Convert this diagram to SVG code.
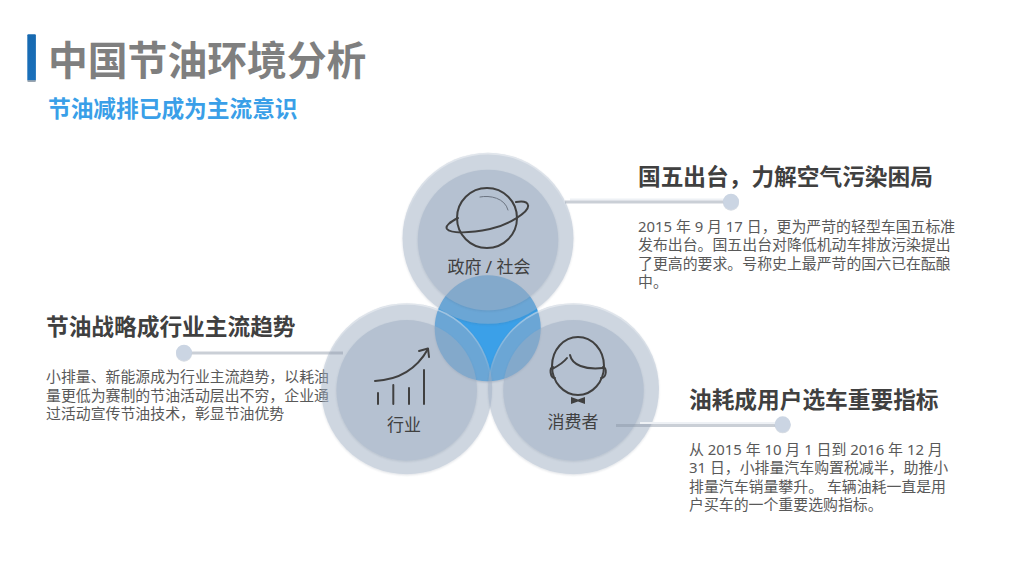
<svg xmlns="http://www.w3.org/2000/svg" width="1024" height="576" viewBox="0 0 1024 576">
<style>
text{font-family:"Noto Sans","Noto Sans CJK SC",sans-serif}
.title{font-size:39.8px;font-weight:700;fill:#7f7f7f}
.sub{font-size:22.7px;font-weight:700;fill:#3a9fe8}
.h{font-size:22.7px;font-weight:700;fill:#404040}
.b{font-size:14.9px;fill:#595959}
.lab{font-size:17px;fill:#404040;text-anchor:middle}
.disc{fill:#9dadc2;opacity:.49;filter:url(#edge)}
.rim{fill:none;stroke:url(#rimg);stroke-width:1.6}
.ic{fill:none;stroke:#404040;stroke-width:2;stroke-linecap:round;stroke-linejoin:round}
.ln{fill:#8a94a4;opacity:.45}
.hl{fill:#eef1f5}
.dot{fill:#cbd5e3;filter:url(#dotedge)}
</style>
<defs>
<linearGradient id="bar" x1="0" y1="0" x2="0" y2="1"><stop offset="0" stop-color="#1769b0"/><stop offset=".96" stop-color="#1a70bb"/><stop offset=".97" stop-color="#9aa5b0"/></linearGradient>
<linearGradient id="rimg" x1="0" y1="0" x2="0" y2="1"><stop offset="0" stop-color="#fff" stop-opacity=".4"/><stop offset=".45" stop-color="#fff" stop-opacity="0"/></linearGradient>
<filter id="edge" x="-10%" y="-10%" width="120%" height="120%">
<feGaussianBlur in="SourceAlpha" stdDeviation=".8" result="b"/>
<feOffset in="b" dy="1.2" result="o"/>
<feFlood flood-color="#3c4f68" flood-opacity=".32"/>
<feComposite in2="o" operator="in" result="s"/>
<feMerge><feMergeNode in="s"/><feMergeNode in="SourceGraphic"/></feMerge>
</filter>
<filter id="dotedge" x="-30%" y="-30%" width="160%" height="160%">
<feDropShadow dx="0" dy="1" stdDeviation=".6" flood-color="#8494aa" flood-opacity=".35"/>
</filter>
<filter id="cs" x="-10%" y="-10%" width="120%" height="120%">
<feDropShadow dx="0" dy="1" stdDeviation=".8" flood-color="#4a5a70" flood-opacity=".4"/>
</filter>
</defs>
<rect width="1024" height="576" fill="#fff"/>
<g id="header">
<rect x="27.3" y="34.3" width="8.6" height="47.7" rx="1" fill="url(#bar)"/>
<text class="title" x="48" y="75">中国节油环境分析</text>
<text class="sub" x="48" y="117">节油减排已成为主流意识</text>
</g>
<g id="text-left">
<text class="h" x="46" y="335">节油战略成行业主流趋势</text>
<text class="b" y="382"><tspan x="46">小排量、新能源成为行业主流趋势，以耗油</tspan><tspan x="46" dy="18.6">量更低为赛制的节油活动层出不穷，企业通</tspan><tspan x="46" dy="18.6">过活动宣传节油技术，彰显节油优势</tspan></text>
</g>
<circle id="center-blue" cx="487.7" cy="328.3" r="53" fill="#3aa0e8" filter="url(#cs)"/>
<g id="node-gov">
<circle class="disc" cx="488" cy="238.3" r="85.5"/>
<circle class="rim" cx="488" cy="238.3" r="84.7"/>
<circle class="disc" cx="488" cy="240" r="70.3"/>
<g class="ic">
<circle cx="487" cy="218" r="30"/>
<path d="M458 218C450 222 445 226 447 229C451 234 470 233 490 229C508 225 530 212 528 205C527 201 522 201 516 202"/>
<path d="M480 197C490 195 505 198 508 210" stroke-width="1" stroke="#6b7380"/>
</g>
<text class="lab" x="489" y="273">政府 / 社会</text>
</g>
<g id="node-industry">
<circle class="disc" cx="406.7" cy="388.7" r="85.5"/>
<circle class="rim" cx="406.7" cy="388.7" r="84.7"/>
<circle class="disc" cx="406.7" cy="390.4" r="70.3"/>
<g class="ic">
<path d="M375 381C395 380 415 372 428 349"/>
<path d="M419 351L428 348.5L429 357"/>
<path d="M378 393V404M393.3 385V404M409 388V404M424 370V404"/>
</g>
<text class="lab" x="404" y="431">行业</text>
</g>
<g id="node-consumer">
<circle class="disc" cx="573.5" cy="388.7" r="85.5"/>
<circle class="rim" cx="573.5" cy="388.7" r="84.7"/>
<circle class="disc" cx="573.5" cy="390.4" r="70.3"/>
<g class="ic">
<ellipse cx="578" cy="366" rx="26" ry="29"/>
<path d="M570 355C572 365 585 370 603 368"/>
<path d="M552 369C558 366 564 362 567 358"/>
<path d="M553 367C549 367 550 378 555 378"/>
<path d="M603 367C607 367 607 378 601 378"/>
</g>
<path d="M571 397L578 399.5L585 397V404L578 401.5L571 404Z" fill="#404040"/>
<text class="lab" x="573" y="428">消费者</text>
</g>
<g id="connectors">
<rect class="hl" x="570" y="198.500" width="161" height="2"/><rect class="ln" x="565" y="200.500" width="166" height="3"/>
<rect class="ln" x="184" y="351.500" width="159" height="3"/>
<rect class="hl" x="640" y="422" width="143" height="2"/><rect class="ln" x="616" y="424" width="167" height="3"/>
<circle class="dot" cx="731" cy="201.7" r="8"/>
<circle class="dot" cx="184" cy="352.7" r="8"/>
<circle class="dot" cx="782.7" cy="424.3" r="8"/>
</g>
<g id="text-top">
<text class="h" x="638" y="185">国五出台，力解空气污染困局</text>
<text class="b" y="232"><tspan x="638">2015 年 9 月 17 日，更为严苛的轻型车国五标准</tspan><tspan x="638" dy="18.4">发布出台。国五出台对降低机动车排放污染提出</tspan><tspan x="638" dy="18.4">了更高的要求。号称史上最严苛的国六已在酝酿</tspan><tspan x="638" dy="18.4">中。</tspan></text>
</g>
<g id="text-bottom">
<text class="h" x="689" y="408">油耗成用户选车重要指标</text>
<text class="b" y="455"><tspan x="689">从 2015 年 10 月 1 日到 2016 年 12 月</tspan><tspan x="689" dy="18.4">31 日，小排量汽车购置税减半，助推小</tspan><tspan x="689" dy="18.4">排量汽车销量攀升。 车辆油耗一直是用</tspan><tspan x="689" dy="18.4">户买车的一个重要选购指标。</tspan></text>
</g>
</svg>
